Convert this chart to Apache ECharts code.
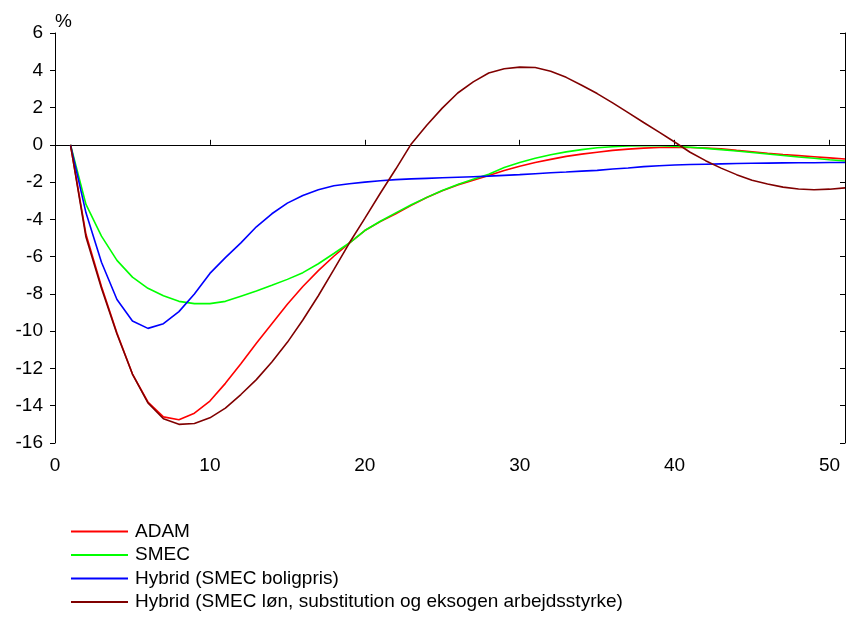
<!DOCTYPE html>
<html>
<head>
<meta charset="utf-8">
<script src="https://cdn.jsdelivr.net/npm/echarts@6/dist/echarts.min.js"></script>
<style>
  html, body { margin: 0; padding: 0; background: #fff; }
  #chart { width: 848px; height: 621px; }
</style>
</head>
<body>
<div id="chart"></div>
<script>
// x = 1..51 (kvartaler)
var periods = [];
for (var i = 1; i <= 51; i++) periods.push(i);

var seriesNames = ["ADAM", "SMEC", "Hybrid (SMEC boligpris)", "Hybrid (SMEC løn, substitution og eksogen arbejdsstyrke)"];
var seriesColors = ["#ff0000", "#00ff00", "#0000ff", "#800000"];

var adam = [0, -4.8, -7.6, -10.1, -12.3, -13.8, -14.6, -14.75, -14.4, -13.75,
  -12.8, -11.75, -10.65, -9.6, -8.55, -7.6, -6.75, -5.98, -5.27, -4.6,
  -4.12, -3.7, -3.25, -2.83, -2.46, -2.15, -1.9, -1.65, -1.38, -1.15,
  -0.95, -0.78, -0.62, -0.5, -0.4, -0.3, -0.23, -0.18, -0.14, -0.13,
  -0.14, -0.17, -0.22, -0.3, -0.37, -0.45, -0.52, -0.58, -0.64, -0.7, -0.76];

var smec = [0, -3.2, -4.9, -6.2, -7.1, -7.7, -8.1, -8.4, -8.52, -8.52,
  -8.4, -8.12, -7.84, -7.54, -7.22, -6.86, -6.38, -5.83, -5.27, -4.6,
  -4.1, -3.65, -3.22, -2.82, -2.45, -2.13, -1.85, -1.58, -1.22, -0.95,
  -0.72, -0.53, -0.38, -0.26, -0.16, -0.1, -0.06, -0.05, -0.05, -0.08,
  -0.13, -0.19, -0.26, -0.33, -0.41, -0.49, -0.57, -0.65, -0.72, -0.8, -0.87];

var hybridBolig = [0, -3.65, -6.3, -8.3, -9.45, -9.85, -9.6, -8.95, -8.0, -6.9,
  -6.05, -5.26, -4.4, -3.7, -3.13, -2.72, -2.41, -2.2, -2.09, -2.0,
  -1.93, -1.87, -1.83, -1.8, -1.77, -1.74, -1.71, -1.68, -1.64, -1.6,
  -1.55, -1.5, -1.46, -1.41, -1.37, -1.3, -1.24, -1.17, -1.12, -1.08,
  -1.06, -1.04, -1.02, -1.0, -0.99, -0.98, -0.97, -0.96, -0.96, -0.95, -0.95];

var hybridLoen = [0, -4.95, -7.7, -10.15, -12.3, -13.85, -14.7, -15.0, -14.95, -14.65,
  -14.13, -13.4, -12.6, -11.65, -10.6, -9.4, -8.1, -6.7, -5.27, -3.95,
  -2.6, -1.3, 0.05, 1.05, 1.97, 2.78, 3.38, 3.85, 4.08, 4.17,
  4.15, 3.95, 3.62, 3.2, 2.75, 2.25, 1.73, 1.2, 0.68, 0.15,
  -0.4, -0.85, -1.25, -1.6, -1.9, -2.1, -2.27, -2.37, -2.41, -2.38, -2.31];

var allData = [adam, smec, hybridBolig, hybridLoen];

function pairs(arr) {
  return arr.map(function (v, i) { return [periods[i], v]; });
}

var mychart = echarts.init(document.getElementById("chart"));

var series = [];
for (var s = 0; s < allData.length; s++) {
  series.push({
    name: seriesNames[s],
    type: "line",
    data: pairs(allData[s]),
    symbol: "none",
    color: seriesColors[s],
    lineStyle: { width: 1.6, color: seriesColors[s] },
    z: 3 + s,
    animation: false
  });
}
// nul-linje
series[0].markLine = {
  silent: true,
  symbol: "none",
  label: { show: false },
  lineStyle: { color: "#000", width: 1, type: "solid" },
  data: [{ yAxis: 0 }]
};

var fontName = "Liberation Sans, Arial, sans-serif";
var tickFont = { color: "#000", fontSize: 19, fontFamily: fontName };

var option = {
  animation: false,
  backgroundColor: "#fff",
  grid: { left: 55, right: 2, top: 33, bottom: 178, containLabel: false },
  xAxis: {
    type: "value",
    min: 0,
    max: 51,
    interval: 10,
    axisLine: { show: true, lineStyle: { color: "#000", width: 1 } },
    axisTick: { show: true, inside: true, length: 5, lineStyle: { color: "#000" } },
    axisLabel: Object.assign({
      margin: 13,
      formatter: function (v) { return v % 10 === 0 ? String(v) : ""; }
    }, tickFont),
    splitLine: { show: false }
  },
  yAxis: [
    {
      type: "value",
      min: -16,
      max: 6,
      interval: 2,
      axisLine: { show: true, onZero: false, lineStyle: { color: "#000", width: 1 } },
      axisTick: { show: true, inside: false, length: 5, lineStyle: { color: "#000" } },
      axisLabel: Object.assign({ margin: 12 }, tickFont),
      splitLine: { show: false }
    },
    {
      type: "value",
      position: "right",
      min: -16,
      max: 6,
      interval: 2,
      axisLine: { show: true, onZero: false, lineStyle: { color: "#000", width: 1 } },
      axisTick: { show: true, inside: true, length: 5, lineStyle: { color: "#000" } },
      axisLabel: { show: false },
      splitLine: { show: false }
    }
  ],
  legend: {
    orient: "vertical",
    left: 66,
    top: 517,
    itemWidth: 57,
    itemHeight: 2,
    itemGap: 4.5,
    icon: "rect",
    textStyle: {
      color: "#000",
      fontSize: 19,
      lineHeight: 19,
      fontFamily: fontName,
      padding: [0, 0, 0, 2]
    },
    data: seriesNames
  },
  graphic: [
    {
      type: "text",
      left: 55,
      top: 12,
      style: { text: "%", fill: "#000", fontSize: 19, fontFamily: fontName }
    }
  ],
  series: series
};

mychart.setOption(option, true);
</script>
</body>
</html>
